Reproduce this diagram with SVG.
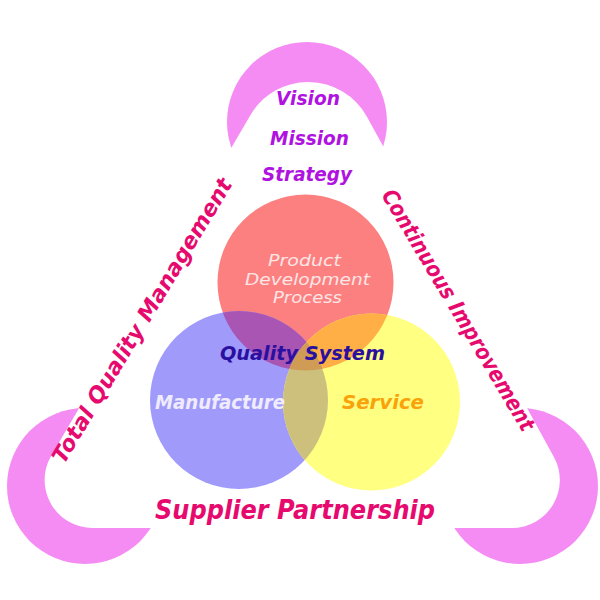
<svg xmlns="http://www.w3.org/2000/svg" width="600" height="600" viewBox="0 0 600 600">
<style>
.t{font-family:"DejaVu Sans","Liberation Sans",sans-serif;font-style:italic;font-weight:bold}
.vm{fill:#B012E0;font-size:20px}
.pd{fill:#FCE6E6;font-size:15px;font-weight:normal}
.side{fill:#E60A6E;font-size:22px}
.pink{fill:#F48CF4}
</style>
<defs>
<clipPath id="cR"><circle cx="305.5" cy="282.5" r="88"/></clipPath>
<clipPath id="cB"><circle cx="239" cy="400" r="89"/></clipPath>
</defs>
<rect width="600" height="600" fill="#FFFFFF"/>
<g id="corners">
<circle class="pink" cx="307" cy="122" r="80"/>
<circle class="pink" cx="85" cy="486" r="78"/>
<circle class="pink" cx="520" cy="486" r="78"/>
</g>
<g id="triangle">
<path d="M250.5,114.9 A67,67 0 0 1 366.8,116.4 L553.9,456.9 A48,48 0 0 1 511.9,528 L92.5,528 A48,48 0 0 1 51.1,455.9 Z" fill="#FFFFFF"/>
</g>
<g id="venn">
<circle cx="305.5" cy="282.5" r="88" fill="#FC8080"/>
<circle cx="239" cy="400" r="89" fill="#A09BFA"/>
<circle cx="371.5" cy="402" r="88.5" fill="#FFFF82"/>
<g clip-path="url(#cR)"><circle cx="239" cy="400" r="89" fill="#A855B4"/></g>
<g clip-path="url(#cR)"><circle cx="371.5" cy="402" r="88.5" fill="#FFAF46"/></g>
<g clip-path="url(#cB)"><circle cx="371.5" cy="402" r="88.5" fill="#CDC07D"/></g>
<g clip-path="url(#cR)"><g clip-path="url(#cB)"><circle cx="371.5" cy="402" r="88.5" fill="#CF9B55"/></g></g>
</g>
<g id="vision-block" class="t vm" text-anchor="middle">
<text x="308" y="105" textLength="64" lengthAdjust="spacingAndGlyphs">Vision</text>
<text x="309.5" y="145" textLength="79" lengthAdjust="spacingAndGlyphs">Mission</text>
<text x="307" y="181" textLength="90" lengthAdjust="spacingAndGlyphs">Strategy</text>
</g>
<g id="product" class="t pd" text-anchor="middle">
<text x="304.5" y="266" textLength="73" lengthAdjust="spacingAndGlyphs">Product</text>
<text x="307.5" y="285" textLength="125" lengthAdjust="spacingAndGlyphs">Development</text>
<text x="307.5" y="303" textLength="69" lengthAdjust="spacingAndGlyphs">Process</text>
</g>
<g id="quality-system">
<text class="t" x="302.5" y="360" text-anchor="middle" font-size="20" fill="#2A0FA0" textLength="165" lengthAdjust="spacingAndGlyphs">Quality System</text>
</g>
<g id="manufacture">
<text class="t" x="220" y="409" text-anchor="middle" font-size="19" fill="#F0ECFF" textLength="130" lengthAdjust="spacingAndGlyphs">Manufacture</text>
</g>
<g id="service">
<text class="t" x="383" y="409" text-anchor="middle" font-size="19" fill="#F9A20A" textLength="82" lengthAdjust="spacingAndGlyphs">Service</text>
</g>
<g id="supplier">
<text class="t" x="295" y="519" text-anchor="middle" font-size="26" fill="#E60A6E" textLength="280" lengthAdjust="spacingAndGlyphs">Supplier Partnership</text>
</g>
<g id="tqm">
<text class="t side" transform="translate(64,465) rotate(-59)" x="0" y="0" textLength="328" lengthAdjust="spacingAndGlyphs">Total Quality Management</text>
</g>
<g id="ci">
<text class="t side" transform="translate(381,195) rotate(59.2)" x="0" y="0" textLength="277" lengthAdjust="spacingAndGlyphs">Continuous Improvement</text>
</g>
</svg>
